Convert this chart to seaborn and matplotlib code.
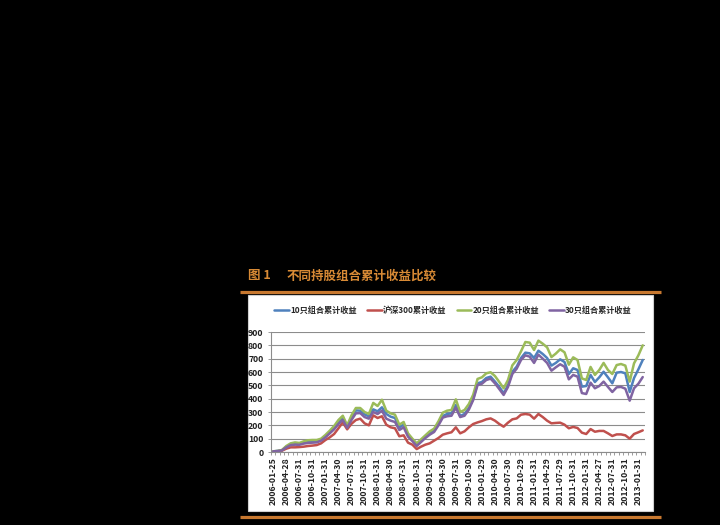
import numpy as np
import pandas as pd
import matplotlib
matplotlib.use("Agg")
import matplotlib.pyplot as plt
import seaborn as sns
from matplotlib.patches import Rectangle
from matplotlib.lines import Line2D

sns.set_theme(style="white")
plt.rcParams['font.family'] = ['Noto Sans CJK SC', 'DejaVu Sans']

# ---------------- data ----------------
tick_labels = [
    "2006-01-25", "2006-04-28", "2006-07-31", "2006-10-31", "2007-01-31",
    "2007-04-30", "2007-07-31", "2007-10-31", "2008-01-31", "2008-04-30",
    "2008-07-31", "2008-10-31", "2009-01-23", "2009-04-30", "2009-07-31",
    "2009-10-30", "2010-01-29", "2010-04-30", "2010-07-30", "2010-10-29",
    "2011-01-31", "2011-04-29", "2011-07-29", "2011-10-31", "2012-01-31",
    "2012-04-27", "2012-07-31", "2012-10-31", "2013-01-31",
]

series_names = ["10只组合累计收益", "沪深300累计收益", "20只组合累计收益", "30只组合累计收益"]

ret_10 = [5, 8, 13, 40, 58, 62, 60, 70, 76, 78, 80, 92, 118, 150, 182, 225, 255, 190, 258, 312,
          310, 282, 268, 320, 305, 335, 285, 265, 255, 185, 205, 125, 90, 55, 85, 115, 140, 162, 215, 270,
          285, 290, 352, 270, 285, 330, 400, 515, 525, 555, 565, 528, 488, 440, 500, 602, 640, 705, 745, 740,
          705, 760, 735, 705, 648, 668, 695, 675, 585, 628, 615, 490, 495, 578, 525, 560, 602, 560, 515, 595,
          600, 590, 450, 555, 620, 690]
ret_hs300 = [3, 5, 10, 25, 35, 35, 37, 40, 45, 48, 52, 65, 90, 110, 135, 178, 222, 170, 212, 240,
             250, 215, 200, 275, 255, 268, 205, 185, 178, 118, 125, 70, 55, 22, 40, 55, 65, 85, 105, 130,
             140, 148, 185, 140, 155, 185, 210, 222, 232, 245, 252, 235, 210, 190, 220, 245, 252, 280, 285, 280,
             250, 285, 262, 235, 215, 218, 220, 205, 178, 188, 180, 145, 135, 172, 152, 158, 158, 140, 120, 132,
             132, 125, 100, 135, 148, 162]
ret_20 = [5, 8, 15, 45, 65, 72, 68, 80, 88, 90, 90, 100, 128, 160, 195, 240, 272, 200, 275, 330,
          330, 300, 285, 368, 345, 392, 310, 290, 280, 205, 225, 140, 100, 65, 95, 125, 155, 175, 230, 295,
          310, 315, 395, 300, 315, 360, 430, 548, 560, 590, 598, 570, 525, 478, 540, 650, 690, 755, 825, 820,
          765, 835, 812, 785, 712, 738, 770, 748, 655, 710, 690, 552, 540, 638, 578, 615, 668, 615, 585, 652,
          660, 648, 528, 665, 725, 800]
ret_30 = [5, 7, 12, 35, 52, 55, 54, 63, 68, 70, 72, 85, 110, 140, 170, 210, 240, 182, 240, 290,
          292, 262, 250, 300, 285, 310, 250, 235, 225, 165, 185, 115, 82, 45, 75, 105, 130, 150, 200, 258,
          268, 272, 332, 262, 272, 318, 390, 502, 512, 540, 550, 515, 472, 428, 488, 585, 625, 690, 725, 715,
          668, 730, 700, 668, 610, 635, 658, 640, 545, 578, 565, 442, 435, 520, 478, 495, 528, 488, 450, 485,
          488, 475, 385, 478, 512, 562]

colors = ["#4F81BD", "#C0504D", "#9BBB59", "#8064A2"]

n = len(ret_10)
idx = np.arange(n)
df = pd.concat([
    pd.DataFrame({"idx": idx, "value": vals, "series": name})
    for name, vals in zip(series_names, [ret_10, ret_hs300, ret_20, ret_30])
], ignore_index=True)

# ---------------- figure ----------------
W, H = 720, 525
fig = plt.figure(figsize=(W / 100, H / 100), dpi=100)
fig.patch.set_facecolor("black")

def fx(px):
    return px / W

def fy(py):
    return (H - py) / H

# white chart box
box = Rectangle((fx(248), fy(511)), fx(653) - fx(248), fy(295) - fy(511),
                transform=fig.transFigure, facecolor="white", edgecolor="#cfcfcf",
                lw=0.8, zorder=-5)
fig.patches.append(box)

orange = "#c8782f"
for yy in (292.3, 517.3):
    fig.add_artist(Line2D([fx(240), fx(661)], [fy(yy), fy(yy)], transform=fig.transFigure,
                          color=orange, lw=2.3, solid_capstyle="butt"))

fig.text(fx(248), fy(276), "图 1", color="#d88a35", fontsize=9, fontweight="bold",
         va="center", ha="left")
fig.text(fx(287), fy(276), "不同持股组合累计收益比较", color="#d88a35", fontsize=9,
         fontweight="bold", va="center", ha="left")

ax = fig.add_axes([fx(271.1), fy(452), fx(644.9) - fx(271.1), fy(332) - fy(452)])
ax.set_facecolor("white")

sns.lineplot(data=df, x="idx", y="value", hue="series", hue_order=series_names,
             palette=colors, linewidth=1.8, ax=ax, legend=False)

ax.set_xlim(-0.5, n - 0.5)
ax.set_ylim(0, 900)
ax.set_xlabel("")
ax.set_ylabel("")

grid_c = "#8c8c8c"
ax.set_yticks(np.arange(0, 901, 100))
ax.yaxis.grid(True, color=grid_c, lw=0.8)
ax.xaxis.grid(False)
ax.set_axisbelow(True)
for s in ("top", "right"):
    ax.spines[s].set_visible(False)
for s in ("left", "bottom"):
    ax.spines[s].set_color(grid_c)
    ax.spines[s].set_linewidth(0.8)

ax.set_xticks(np.arange(0, n, 3))
ax.set_xticklabels(tick_labels, rotation=90, fontsize=6.3, fontweight="bold", color="#222222")
ax.set_xticks(np.arange(-0.5, n, 1), minor=True)
ax.tick_params(axis="x", which="major", length=0, pad=4)
ax.tick_params(axis="x", which="minor", length=2.5, width=0.6, color=grid_c, direction="out", bottom=True)
ax.tick_params(axis="y", which="major", length=2.5, width=0.6, color=grid_c, direction="out",
               labelsize=6.3, pad=3, left=True)
for t in ax.get_yticklabels():
    t.set_fontweight("bold")
    t.set_color("#222222")

handles = [Line2D([0], [0], color=c, lw=1.8) for c in colors]
fig.legend(handles, series_names, loc="center", bbox_to_anchor=(fx(453), fy(310)),
           ncol=4, frameon=False, handlelength=1.8, handletextpad=0.1, columnspacing=1.3,
           prop={"size": 5.9, "weight": "bold"})

fig.savefig("out.png", dpi=100, facecolor=fig.get_facecolor())
